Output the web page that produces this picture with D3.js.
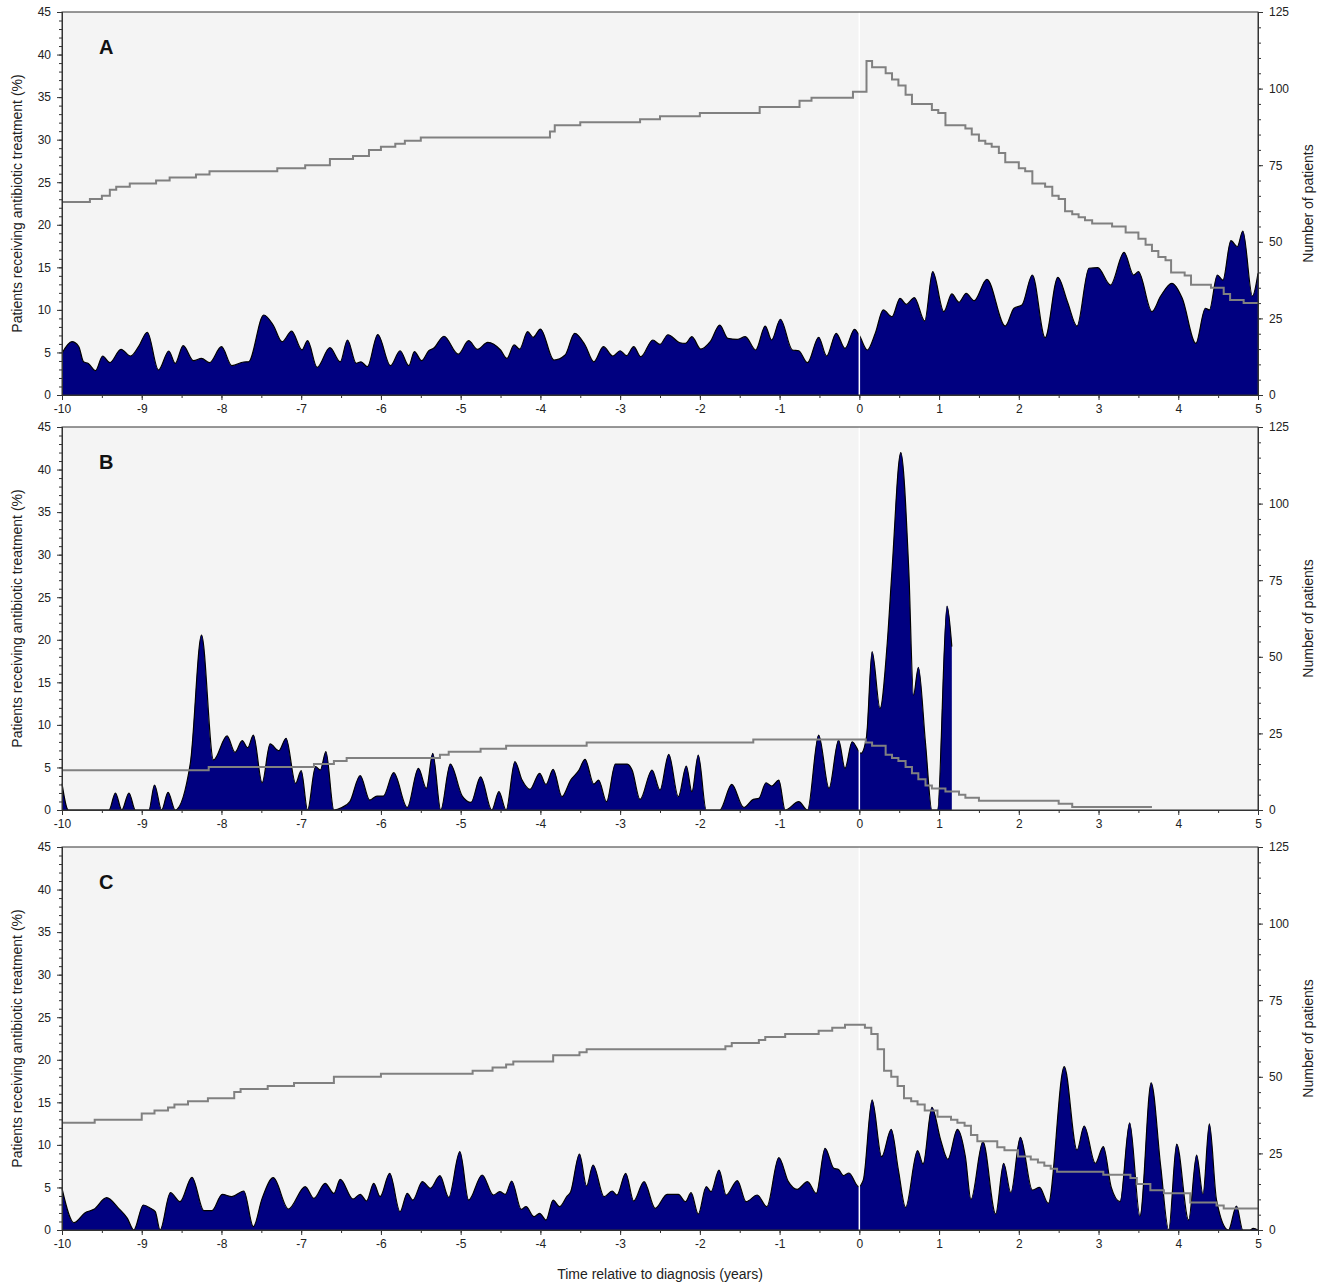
<!DOCTYPE html>
<html>
<head>
<meta charset="utf-8">
<script src="https://cdn.jsdelivr.net/npm/d3@7"></script>
<style>
  body { margin: 0; background: #fff; }
  text { font-family: "Liberation Sans", Arial, sans-serif; }
</style>
</head>
<body>
<div id="chart"></div>
<script>
// ---- data ----
const panels = ["A", "B", "C"];
const xTicks = d3.range(-10, 6, 1);
const leftTicks = d3.range(0, 46, 5);
const rightTicks = [0, 25, 50, 75, 100, 125];

// % of patients receiving antibiotic treatment (smoothed curve, peaks and troughs)
const pctA = [[-10,4.9],[-9.875,6.26],[-9.79,5.7],[-9.73,3.9],[-9.67,3.7],[-9.58,2.86],[-9.49,4.58],[-9.40,3.8],[-9.26,5.37],[-9.14,4.58],[-9.04,5.68],[-8.93,7.37],[-8.79,2.94],[-8.66,5.17],[-8.58,3.72],[-8.48,5.8],[-8.35,4.03],[-8.25,4.3],[-8.15,3.8],[-8.0,5.68],[-7.87,3.45],[-7.72,3.88],[-7.66,3.9],[-7.47,9.4],[-7.35,8.2],[-7.24,6.26],[-7.12,7.5],[-6.99,5.3],[-6.92,6.38],[-6.80,3.25],[-6.64,5.56],[-6.51,3.9],[-6.42,6.46],[-6.31,3.72],[-6.25,3.9],[-6.17,3.33],[-6.04,7.1],[-5.88,3.45],[-5.76,5.2],[-5.65,3.45],[-5.58,5.1],[-5.49,4.03],[-5.40,5.2],[-5.34,5.48],[-5.21,6.9],[-5.03,4.8],[-4.90,6.38],[-4.79,5.37],[-4.66,6.19],[-4.50,5.29],[-4.42,4.3],[-4.33,5.88],[-4.26,5.4],[-4.16,7.44],[-4.09,6.78],[-4.0,7.75],[-3.83,4.11],[-3.69,4.7],[-3.57,7.25],[-3.44,5.88],[-3.33,3.9],[-3.21,5.68],[-3.09,4.58],[-3.0,5.2],[-2.92,4.62],[-2.83,5.68],[-2.74,4.5],[-2.59,6.46],[-2.50,5.95],[-2.40,7.08],[-2.25,6.14],[-2.18,6.07],[-2.10,6.85],[-1.99,5.4],[-1.87,6.26],[-1.75,8.22],[-1.65,6.66],[-1.53,6.54],[-1.43,6.85],[-1.30,5.29],[-1.18,8.1],[-1.10,6.46],[-0.99,8.9],[-0.84,5.29],[-0.76,5.2],[-0.65,3.8],[-0.51,6.78],[-0.41,4.58],[-0.29,7.25],[-0.18,5.48],[-0.06,7.72],[0.0,7.0],[0.10,5.29],[0.2,7.25],[0.30,9.99],[0.41,9.2],[0.51,11.36],[0.59,10.65],[0.69,11.44],[0.82,8.7],[0.92,14.5],[1.06,9.8],[1.16,11.87],[1.25,10.9],[1.34,11.95],[1.44,11.08],[1.60,13.59],[1.83,8.1],[1.94,10.19],[2.04,10.57],[2.17,14.1],[2.33,6.73],[2.49,13.83],[2.61,10.96],[2.73,8.1],[2.88,14.89],[2.99,14.96],[3.15,12.92],[3.32,16.76],[3.44,14.1],[3.50,14.49],[3.67,9.79],[3.78,11.63],[3.92,13.12],[4.05,11.36],[4.22,6.07],[4.34,10.19],[4.39,9.99],[4.49,14.1],[4.56,13.5],[4.66,18.13],[4.74,17.42],[4.81,19.27],[4.93,11.63],[5.0,14.3]];

const pctB = [[-10,3.1],[-9.92,0],[-9.41,0],[-9.33,2.0],[-9.25,0],[-9.16,2.0],[-9.08,0],[-8.91,0],[-8.84,2.94],[-8.75,0],[-8.67,2.08],[-8.58,0],[-8.39,5.5],[-8.25,20.56],[-8.10,5.88],[-7.93,8.7],[-7.83,6.78],[-7.74,8.15],[-7.67,7.32],[-7.60,8.8],[-7.49,3.2],[-7.39,7.76],[-7.28,6.97],[-7.19,8.42],[-7.07,3.13],[-7.0,4.62],[-6.92,0],[-6.82,5.09],[-6.76,4.7],[-6.69,6.85],[-6.59,0],[-6.49,0.3],[-6.39,0.98],[-6.26,4.03],[-6.14,1.17],[-6.05,1.64],[-5.97,1.64],[-5.84,4.38],[-5.67,0.3],[-5.53,4.9],[-5.43,2.55],[-5.35,6.66],[-5.25,0],[-5.13,5.4],[-4.98,1.64],[-4.87,0.9],[-4.75,3.9],[-4.61,0],[-4.52,2.15],[-4.43,0],[-4.32,5.68],[-4.23,3.52],[-4.13,2.43],[-4.01,4.31],[-3.93,3.0],[-3.84,4.78],[-3.73,1.57],[-3.62,3.52],[-3.52,4.62],[-3.44,5.95],[-3.33,3.05],[-3.27,3.52],[-3.17,0.98],[-3.06,5.4],[-2.91,5.4],[-2.85,4.7],[-2.75,1.25],[-2.60,4.7],[-2.50,2.35],[-2.39,6.54],[-2.27,1.57],[-2.17,5.17],[-2.10,2.15],[-2.02,6.46],[-1.92,0],[-1.75,0],[-1.60,3.0],[-1.45,0.3],[-1.33,1.25],[-1.26,1.37],[-1.17,3.2],[-1.10,2.82],[-1.01,3.52],[-0.93,0],[-0.76,0.98],[-0.65,0],[-0.51,8.8],[-0.38,2.55],[-0.26,8.22],[-0.18,4.9],[-0.09,8.02],[0.02,6.66],[0.09,8.6],[0.16,18.6],[0.26,11.95],[0.35,19.6],[0.41,28.2],[0.52,42.0],[0.62,28.2],[0.68,13.5],[0.74,16.77],[0.83,7.84],[0.91,0],[0.98,0],[1.10,23.97],[1.16,19.2]];

const pctC = [[-10,4.9],[-9.85,0.86],[-9.71,2.03],[-9.60,2.43],[-9.44,3.8],[-9.29,2.55],[-9.18,1.37],[-9.10,0],[-8.98,2.94],[-8.89,2.55],[-8.83,2.15],[-8.77,0],[-8.64,4.38],[-8.52,3.33],[-8.37,6.19],[-8.22,2.27],[-8.12,2.27],[-7.99,4.19],[-7.87,3.92],[-7.72,4.58],[-7.60,0.4],[-7.49,3.72],[-7.35,6.15],[-7.16,2.47],[-6.95,5.09],[-6.84,3.72],[-6.70,5.48],[-6.59,4.31],[-6.51,5.95],[-6.35,3.64],[-6.26,4.19],[-6.18,3.41],[-6.09,5.48],[-6.01,3.92],[-5.89,6.66],[-5.76,2.15],[-5.67,4.31],[-5.60,3.52],[-5.48,5.68],[-5.38,4.9],[-5.26,6.38],[-5.15,3.84],[-5.01,9.2],[-4.90,3.52],[-4.73,6.46],[-4.59,4.11],[-4.51,4.5],[-4.44,4.19],[-4.36,5.76],[-4.24,2.43],[-4.18,2.74],[-4.08,1.57],[-4.01,1.96],[-3.93,1.17],[-3.84,3.52],[-3.76,2.74],[-3.67,3.92],[-3.62,4.5],[-3.51,8.93],[-3.42,5.17],[-3.34,7.64],[-3.20,3.92],[-3.10,4.58],[-3.04,4.11],[-2.93,6.66],[-2.83,3.41],[-2.70,5.68],[-2.56,2.55],[-2.41,4.19],[-2.27,4.19],[-2.18,3.33],[-2.11,4.38],[-2.02,1.88],[-1.92,5.09],[-1.86,4.5],[-1.76,7.05],[-1.67,4.11],[-1.53,5.8],[-1.42,3.33],[-1.28,4.11],[-1.16,2.74],[-1.01,8.5],[-0.89,5.68],[-0.78,4.78],[-0.65,5.68],[-0.54,4.31],[-0.43,9.6],[-0.32,7.25],[-0.26,7.1],[-0.2,6.4],[-0.13,6.7],[-0.01,5.1],[0.05,5.88],[0.16,15.28],[0.28,8.61],[0.40,11.83],[0.49,7.05],[0.58,2.66],[0.73,9.32],[0.80,7.76],[0.91,14.42],[1.02,10.58],[1.11,8.31],[1.23,11.83],[1.33,8.61],[1.40,3.6],[1.55,10.38],[1.71,1.88],[1.81,7.84],[1.90,4.38],[2.02,10.89],[2.17,4.7],[2.26,5.0],[2.37,3.13],[2.57,19.19],[2.73,9.4],[2.82,12.22],[2.96,7.84],[3.06,9.79],[3.16,5.0],[3.27,3.33],[3.39,12.6],[3.52,1.65],[3.66,17.3],[3.78,7.44],[3.88,0],[3.98,10.1],[4.13,1.17],[4.23,8.81],[4.31,4.23],[4.39,12.46],[4.48,3.52],[4.63,0],[4.73,2.82],[4.81,0],[4.9,0],[4.94,0.2],[5.0,0]];

// number of patients (step function: [time of change, new count])
const nA = [[-10,63],[-9.65,64],[-9.5,65],[-9.4,67],[-9.32,68],[-9.15,69],[-8.82,70],[-8.65,71],[-8.32,72],[-8.15,73],[-7.3,74],[-6.95,75],[-6.64,77],[-6.35,78],[-6.15,80],[-6.0,81],[-5.82,82],[-5.7,83],[-5.5,84],[-3.88,86],[-3.82,88],[-3.5,89],[-2.75,90],[-2.5,91],[-2.0,92],[-1.25,94],[-0.75,96],[-0.6,97],[-0.08,99],[0.09,109],[0.16,107],[0.33,105],[0.41,103],[0.49,101],[0.58,98],[0.66,95],[0.91,93],[0.99,92],[1.08,88],[1.33,87],[1.41,85],[1.50,83],[1.58,82],[1.66,81],[1.75,79],[1.83,76],[2.0,74],[2.08,73],[2.17,69],[2.33,68],[2.42,65],[2.50,64],[2.58,60],[2.67,59],[2.75,58],[2.83,57],[2.92,56],[3.17,55],[3.34,53],[3.50,51],[3.59,49],[3.67,47],[3.75,45],[3.84,44],[3.91,40],[4.08,39],[4.16,36],[4.41,35],[4.57,33],[4.65,31],[4.82,30],[5.0,30]];

const nB = [[-10,13],[-8.16,14],[-6.84,15],[-6.59,16],[-6.43,17],[-5.26,18],[-5.15,19],[-4.75,20],[-4.43,21],[-3.42,22],[-1.33,23],[0.08,22],[0.16,21],[0.33,18],[0.41,17],[0.49,16],[0.58,14],[0.66,12],[0.74,10],[0.83,8],[0.91,7],[1.08,6],[1.25,5],[1.33,4],[1.50,3],[2.50,2],[2.67,1],[3.67,1]];

const nC = [[-10,35],[-9.59,36],[-9.0,38],[-8.84,39],[-8.67,40],[-8.59,41],[-8.42,42],[-8.17,43],[-7.84,45],[-7.76,46],[-7.42,47],[-7.09,48],[-6.59,50],[-6.0,51],[-4.85,52],[-4.6,53],[-4.43,54],[-4.34,55],[-3.84,57],[-3.51,58],[-3.42,59],[-1.68,60],[-1.6,61],[-1.26,62],[-1.18,63],[-0.93,64],[-0.51,65],[-0.34,66],[-0.18,67],[0.07,66],[0.15,64],[0.23,59],[0.31,52],[0.40,50],[0.48,47],[0.56,43],[0.65,42],[0.73,41],[0.82,39],[0.98,37],[1.15,36],[1.23,35],[1.32,34],[1.40,31],[1.48,29],[1.73,27],[1.82,26],[1.99,24],[2.15,23],[2.24,22],[2.32,21],[2.40,20],[2.48,19],[3.06,18],[3.40,17],[3.48,15],[3.65,13],[3.82,12],[4.15,9],[4.48,8],[4.57,7],[5.0,7]];

const pctSeries = [pctA, pctB, pctC];
const nSeries = [nA, nB, nC];

// ---- layout ----
const W = 1325, H = 1284;
const left = 62, right = 1258;
const tops = [12, 427, 847];
const ph = 383;

const svg = d3.select("#chart").append("svg")
  .attr("width", W)
  .attr("height", H);

const x = d3.scaleLinear().domain([-10, 5]).range([left, right]);

panels.forEach((name, i) => {
  const top = tops[i], bottom = top + ph;
  const yL = d3.scaleLinear().domain([0, 45]).range([bottom, top]);
  const yR = d3.scaleLinear().domain([0, 125]).range([bottom, top]);
  const g = svg.append("g");

  g.append("rect")
    .attr("x", left).attr("y", top)
    .attr("width", right - left).attr("height", ph)
    .attr("fill", "#f4f4f4");

  const area = d3.area()
    .x(d => x(d[0]))
    .y0(bottom)
    .y1(d => yL(d[1]))
    .curve(d3.curveMonotoneX);
  const line = d3.line()
    .x(d => x(d[0]))
    .y(d => yL(d[1]))
    .curve(d3.curveMonotoneX);

  g.append("path")
    .datum(pctSeries[i])
    .attr("d", area)
    .attr("fill", "#000080");
  g.append("path")
    .datum(pctSeries[i])
    .attr("d", line)
    .attr("fill", "none")
    .attr("stroke", "#000")
    .attr("stroke-width", 1.2);

  // white line at diagnosis
  g.append("line")
    .attr("x1", x(0)).attr("x2", x(0))
    .attr("y1", top).attr("y2", bottom)
    .attr("stroke", "#fff")
    .attr("stroke-width", 1.5);

  const step = d3.line()
    .x(d => x(d[0]))
    .y(d => yR(d[1]))
    .curve(d3.curveStepAfter);
  g.append("path")
    .datum(nSeries[i])
    .attr("d", step)
    .attr("fill", "none")
    .attr("stroke", "#808080")
    .attr("stroke-width", 2);

  // frame
  g.append("rect")
    .attr("x", left).attr("y", top)
    .attr("width", right - left).attr("height", ph)
    .attr("fill", "none")
    .attr("stroke", "#333");

  // axes
  const axL = g.append("g").attr("transform", `translate(${left},0)`)
    .call(d3.axisLeft(yL).tickValues(leftTicks).tickSize(5).tickPadding(6));
  g.append("g").attr("transform", `translate(${left},0)`)
    .call(d3.axisLeft(yL).tickValues(d3.range(0, 46, 1)).tickSize(3).tickFormat(""));
  const axR = g.append("g").attr("transform", `translate(${right},0)`)
    .call(d3.axisRight(yR).tickValues(rightTicks).tickSize(5).tickPadding(6));
  g.append("g").attr("transform", `translate(${right},0)`)
    .call(d3.axisRight(yR).tickValues(d3.range(0, 126, 5)).tickSize(3).tickFormat(""));
  const axB = g.append("g").attr("transform", `translate(0,${bottom})`)
    .call(d3.axisBottom(x).tickValues(xTicks).tickSize(5).tickPadding(4).tickFormat(d3.format("d")));
  g.append("g").attr("transform", `translate(0,${bottom})`)
    .call(d3.axisBottom(x).tickValues(d3.range(-10, 5.01, 0.5)).tickSize(3).tickFormat(""));

  g.selectAll(".domain").attr("stroke", "#333");
  g.selectAll(".tick line").attr("stroke", "#333");
  g.selectAll(".tick text")
    .attr("font-size", 12)
    .attr("fill", "#222")
    .style("font-family", "'Liberation Sans', Arial, sans-serif");
  axB.selectAll(".tick text").text(d => d < 0 ? "-" + Math.abs(d) : d);

  // titles
  g.append("text")
    .attr("transform", `translate(22,${top + ph / 2}) rotate(-90)`)
    .attr("text-anchor", "middle")
    .attr("font-size", 14)
    .attr("fill", "#222")
    .text("Patients receiving antibiotic treatment (%)");
  g.append("text")
    .attr("transform", `translate(1313,${top + ph / 2}) rotate(-90)`)
    .attr("text-anchor", "middle")
    .attr("font-size", 14)
    .attr("fill", "#222")
    .text("Number of patients");
  g.append("text")
    .attr("x", 99).attr("y", top + 42)
    .attr("font-size", 20)
    .attr("font-weight", "bold")
    .attr("fill", "#111")
    .text(name);
});

svg.append("text")
  .attr("x", (left + right) / 2).attr("y", 1279)
  .attr("text-anchor", "middle")
  .attr("font-size", 14)
  .attr("fill", "#222")
  .text("Time relative to diagnosis (years)");
</script>
</body>
</html>
